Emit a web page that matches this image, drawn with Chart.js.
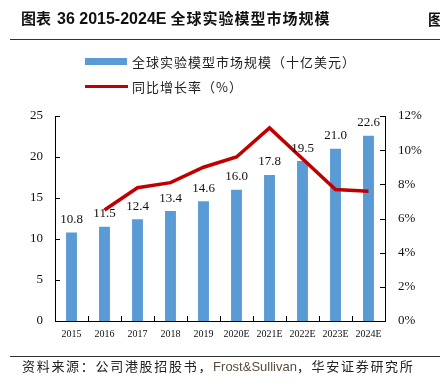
<!DOCTYPE html>
<html>
<head>
<meta charset="utf-8">
<script src="https://cdn.jsdelivr.net/npm/chart.js@4"></script>
<style>
    body { margin: 0; background: #fff; }
    #wrap { position: relative; width: 440px; height: 390px; overflow: hidden; font-family: "Noto Sans CJK SC", sans-serif; }
    #chart { position: absolute; left: 0; top: 0; }
    .abs { position: absolute; white-space: nowrap; }
    #title { left: 21px; top: 7px; font-size: 15px; font-weight: bold; color: #111; }
    #title .num { font-family: "Liberation Sans", Arial, sans-serif; font-size: 16px; margin: 0 4px 0 6px; }
    #title .cn { letter-spacing: 1px; }
    .rule { position: absolute; height: 1px; background: #333; }
    .legTxt { font-size: 13px; color: #222; letter-spacing: 1px; }
    #foot { left: 22px; top: 356px; font-size: 13px; color: #222; letter-spacing: 1.7px; }
    #foot .en { font-family: "Liberation Sans", Arial, sans-serif; color: #5a4c3c; letter-spacing: 0; }
</style>
</head>
<body>
<div id="wrap">
    <canvas id="chart" width="440" height="390"></canvas>
    <div class="abs" style="left:70px;top:-7px;font-size:8px;color:#bbb;font-family:'Liberation Sans',sans-serif;">HUAAN RESEARCH</div>
    <div class="abs" id="title">图表<span class="num">36 2015-2024E</span><span class="cn">全球实验模型市场规模</span></div>
    <div class="abs" style="left:428px;top:8px;font-size:15px;font-weight:bold;color:#111;">图</div>
    <div class="rule" style="left:10px;top:39px;width:430px;"></div>
    <div class="abs" style="left:85px;top:58px;width:42px;height:7px;background:#5B9BD5;"></div>
    <div class="abs legTxt" style="left:132px;top:52px;">全球实验模型市场规模（十亿美元）</div>
    <div class="abs" style="left:85px;top:85px;width:43px;height:3px;background:#C00000;"></div>
    <div class="abs legTxt" style="left:132px;top:77px;">同比增长率（%）</div>
    <div class="rule" style="left:10px;top:356px;width:430px;"></div>
    <div class="abs" id="foot">资料来源：公司港股招股书，<span class="en">Frost&amp;Sullivan</span>，华安证券研究所</div>
</div>
<script>
    const years = ["2015", "2016", "2017", "2018", "2019", "2020E", "2021E", "2022E", "2023E", "2024E"];
    const marketSize = [10.8, 11.5, 12.4, 13.4, 14.6, 16.0, 17.8, 19.5, 21.0, 22.6];
    const growthPct = [null, 6.5, 7.8, 8.1, 9.0, 9.6, 11.3, 9.5, 7.7, 7.6];
    const leftTicks = [0, 5, 10, 15, 20, 25];
    const rightTicks = [0, 2, 4, 6, 8, 10, 12];

    const serif = "'Liberation Serif', 'Times New Roman', serif";

    // inward tick marks on all three axes + value labels above the bars
    const decorPlugin = {
        id: "decor",
        afterDatasetsDraw(chart) {
            const { ctx, chartArea: a, scales } = chart;
            ctx.save();
            ctx.strokeStyle = "#000";
            ctx.lineWidth = 1;
            ctx.beginPath();
            leftTicks.forEach(v => {
                const y = Math.round(scales.y.getPixelForValue(v)) + 0.5;
                ctx.moveTo(a.left, y); ctx.lineTo(a.left + 5, y);
            });
            rightTicks.forEach(v => {
                const y = Math.round(scales.y1.getPixelForValue(v)) + 0.5;
                ctx.moveTo(a.right, y); ctx.lineTo(a.right - 5, y);
            });
            for (let i = 0; i < years.length - 1; i++) {
                const x = Math.round((scales.x.getPixelForValue(i) + scales.x.getPixelForValue(i + 1)) / 2) + 0.5;
                ctx.moveTo(x, a.bottom); ctx.lineTo(x, a.bottom - 5);
            }
            ctx.stroke();

            const meta = chart.getDatasetMeta(1);
            ctx.fillStyle = "#111";
            ctx.font = "13px " + serif;
            ctx.textAlign = "center";
            ctx.textBaseline = "middle";
            meta.data.forEach((bar, i) => {
                ctx.fillText(marketSize[i].toFixed(1), bar.x, bar.y - 13);
            });
            ctx.restore();
        }
    };

    new Chart(document.getElementById("chart").getContext("2d"), {
        data: {
            labels: years,
            datasets: [
                {
                    type: "line",
                    label: "同比增长率（%）",
                    data: growthPct,
                    yAxisID: "y1",
                    borderColor: "#C00000",
                    borderWidth: 3.5,
                    pointRadius: 0,
                    tension: 0,
                    spanGaps: false,
                    order: 0
                },
                {
                    type: "bar",
                    label: "全球实验模型市场规模（十亿美元）",
                    data: marketSize,
                    yAxisID: "y",
                    backgroundColor: "#5B9BD5",
                    barPercentage: 0.66,
                    categoryPercentage: 0.5,
                    order: 1
                }
            ]
        },
        options: {
            responsive: false,
            animation: false,
            layout: { padding: { top: 116, left: 0, right: 0, bottom: 0 } },
            plugins: { legend: { display: false }, tooltip: { enabled: false } },
            scales: {
                x: {
                    grid: { display: false, drawTicks: false },
                    border: { color: "#000", width: 1 },
                    ticks: { color: "#111", font: { family: serif, size: 10 }, padding: 7, maxRotation: 0, autoSkip: false },
                    afterFit: s => { s.height = 69; }
                },
                y: {
                    position: "left",
                    min: 0, max: 25,
                    grid: { display: false, drawTicks: false },
                    border: { color: "#000", width: 1 },
                    ticks: { stepSize: 5, color: "#111", font: { family: serif, size: 13 }, padding: 12 },
                    afterFit: s => { s.width = 55; }
                },
                y1: {
                    position: "right",
                    min: 0, max: 12,
                    grid: { display: false, drawTicks: false },
                    border: { color: "#000", width: 1 },
                    ticks: { stepSize: 2, color: "#111", font: { family: serif, size: 13 }, padding: 13, callback: v => v + "%" },
                    afterFit: s => { s.width = 55; }
                }
            }
        },
        plugins: [decorPlugin]
    });
</script>
</body>
</html>
